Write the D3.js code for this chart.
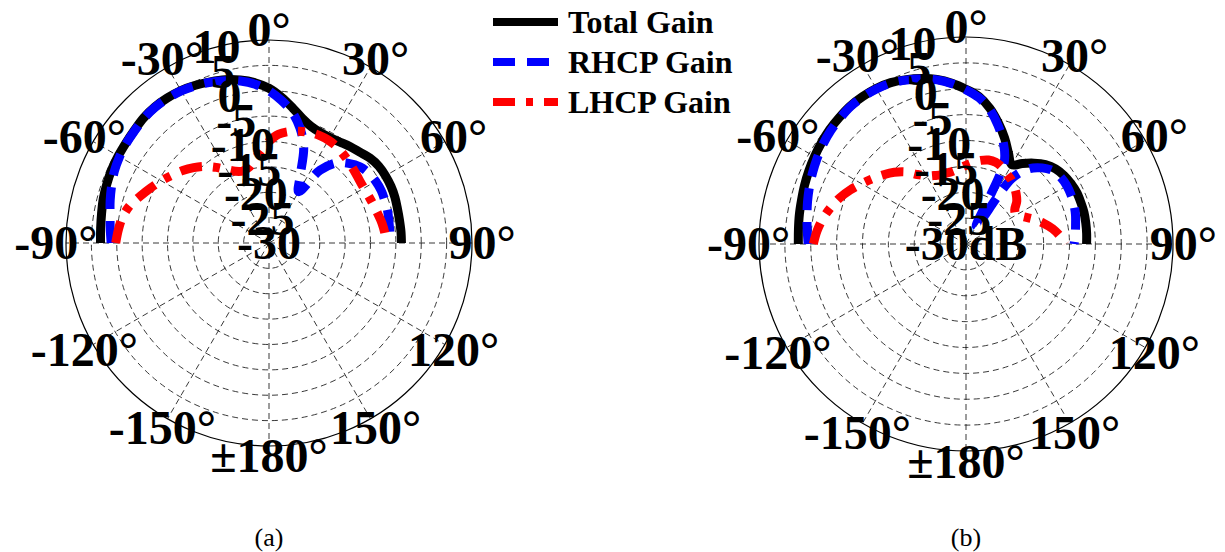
<!DOCTYPE html>
<html>
<head>
<meta charset="utf-8">
<script src="https://cdnjs.cloudflare.com/ajax/libs/d3/7.8.5/d3.min.js"></script>
<style>
  body { margin: 0; background: #fff; }
</style>
</head>
<body>
<svg id="svgContainer"></svg>
<script>
// Angles (deg, 0 at top, clockwise) and gains in dB
const angles = [-90, -85, -80, -75, -70, -65, -60, -55, -50, -45, -40, -35, -30, -25, -20, -15, -10, -5,
  0, 5, 10, 15, 20, 25, 30, 35, 40, 45, 50, 55, 60, 65, 70, 75, 80, 85, 90];

// plot (a)
const totalA = [3.2, 3.3, 3.5, 3.8, 4.0, 4.2, 4.3, 4.4, 4.6, 4.9, 5.0, 4.9, 4.7, 4.3, 3.8, 3.3, 2.6, 1.7,
  0.5, -1.2, -3.0, -4.6, -5.6, -6.0, -6.0, -5.7, -5.2, -4.7, -4.0, -3.6, -3.5, -3.5, -3.6, -3.8, -3.9, -3.9, -3.9];
const rhcpA = [1.1, 1.4, 1.8, 2.4, 3.0, 3.6, 4.0, 4.3, 4.5, 4.8, 4.9, 4.8, 4.6, 4.2, 3.7, 3.1, 2.4, 1.4,
  0.0, -1.8, -3.8, -6.5, -10.0, -15.5, -18.3, -12.5, -9.4, -7.8, -6.6, -6.0, -5.7, -5.6, -5.7, -5.8, -6.0, -6.1, -6.2];
const lhcpA = [0.2, -0.2, -0.7, -1.6, -3.0, -4.3, -5.5, -6.7, -7.8, -9.0, -10.3, -11.8, -13.3, -14.4, -14.9, -14.6, -13.4, -11.8,
  -10.0, -8.5, -7.7, -7.2, -6.8, -6.6, -6.6, -6.8, -7.2, -7.6, -8.0, -8.3, -8.4, -8.3, -8.1, -7.8, -7.4, -7.1, -6.9];

// plot (b)
const totalB = [2.4, 2.5, 2.7, 2.9, 3.2, 3.5, 3.8, 4.1, 4.4, 4.6, 4.8, 4.8, 4.7, 4.4, 3.8, 3.1, 2.3, 1.2,
  -0.1, -1.4, -3.4, -5.8, -8.2, -10.6, -12.3, -11.0, -9.6, -8.3, -7.4, -6.9, -6.6, -6.4, -6.4, -6.4, -6.5, -6.6, -6.7];
const rhcpB = [0.5, 0.8, 1.2, 1.7, 2.2, 2.7, 3.2, 3.7, 4.1, 4.4, 4.7, 4.7, 4.6, 4.3, 3.7, 3.0, 2.2, 1.1,
  -0.2, -1.6, -3.6, -6.2, -9.0, -12.5, -26.0, -14.5, -11.0, -9.2, -8.0, -7.6, -7.5, -7.6, -7.8, -8.1, -8.5, -8.8, -9.1];
const lhcpB = [-0.5, -1.1, -1.9, -2.9, -4.0, -5.3, -6.7, -8.0, -9.2, -10.4, -11.8, -13.6, -14.8, -15.4, -15.8, -15.8, -15.7, -15.3,
  -14.8, -14.2, -13.6, -13.2, -13.2, -13.6, -14.3, -14.8, -15.5, -16.3, -17.2, -18.5, -18.8, -17.6, -16.0, -14.5, -13.0, -11.8, -10.8];

// Tick labels
const angleTicks = [0, 30, 60, 90, 120, 150, 180, -150, -120, -90, -60, -30];
const angleLabels = ["0°", "30°", "60°", "90°", "120°", "150°", "±180°", "-150°", "-120°", "-90°", "-60°", "-30°"];
const rTicks = [-30, -25, -20, -15, -10, -5, 0, 5, 10];
const seriesNames = ["Total Gain", "RHCP Gain", "LHCP Gain"];
const captions = ["(a)", "(b)"];

const svgWidth = 1225;
const svgHeight = 552;
const svg = d3.select("#svgContainer")
  .attr("width", svgWidth)
  .attr("height", svgHeight);

svg.append("rect")
  .attr("width", svgWidth)
  .attr("height", svgHeight)
  .attr("fill", "#fff");

const serifFont = "'Liberation Serif', 'Times New Roman', serif";
const rad = d => d * Math.PI / 180;

// line styles for the three series
const styles = [
  { color: "#000000", dash: null },
  { color: "#0000ff", dash: "22,12" },
  { color: "#ff0000", dash: "22,11,7,11" }
];

function drawPolar(cx, cy, R, series, lastLabel, caption) {
  const r = d3.scaleLinear().domain([-30, 10]).range([0, R]);
  const g = svg.append("g").attr("transform", `translate(${cx},${cy})`);

  // dashed rings
  g.selectAll(".ring")
    .data(rTicks.slice(1, -1))
    .enter()
    .append("circle")
    .attr("r", d => r(d))
    .attr("fill", "none")
    .attr("stroke", "#222")
    .attr("stroke-width", 0.9)
    .attr("stroke-dasharray", "6,4");

  // dashed spokes every 30 deg
  g.selectAll(".spoke")
    .data(d3.range(0, 360, 30))
    .enter()
    .append("line")
    .attr("x1", 0)
    .attr("y1", 0)
    .attr("x2", d => R * Math.sin(rad(d)))
    .attr("y2", d => -R * Math.cos(rad(d)))
    .attr("stroke", "#222")
    .attr("stroke-width", 0.9)
    .attr("stroke-dasharray", "6,4");

  // outer circle
  g.append("circle")
    .attr("r", R)
    .attr("fill", "none")
    .attr("stroke", "#000")
    .attr("stroke-width", 1.2);

  const line = d3.lineRadial()
    .angle(d => rad(d[0]))
    .radius(d => r(d[1]))
    .curve(d3.curveCatmullRom.alpha(0.5));

  series.forEach((vals, i) => {
    g.append("path")
      .attr("d", line(angles.map((a, k) => [a, vals[k]])))
      .attr("fill", "none")
      .attr("stroke", styles[i].color)
      .attr("stroke-width", 9)
      .attr("stroke-dasharray", styles[i].dash);
  });

  // radial labels along -15 deg
  g.selectAll(".rlabel")
    .data(rTicks)
    .enter()
    .append("text")
    .attr("x", d => -r(d) * Math.sin(rad(15)))
    .attr("y", d => -r(d) * Math.cos(rad(15)))
    .attr("dy", "0.34em")
    .attr("text-anchor", "middle")
    .attr("font-family", serifFont)
    .attr("font-weight", "bold")
    .attr("font-size", 48)
    .text(d => d === -30 ? lastLabel : d);

  // angle labels
  g.selectAll(".alabel")
    .data(angleTicks)
    .enter()
    .append("text")
    .attr("x", d => 1.05 * R * Math.sin(rad(d)))
    .attr("y", d => -1.05 * R * Math.cos(rad(d)))
    .attr("dy", "0.34em")
    .attr("text-anchor", "middle")
    .attr("font-family", serifFont)
    .attr("font-weight", "bold")
    .attr("font-size", 48)
    .text((d, i) => angleLabels[i]);

  svg.append("text")
    .attr("x", cx)
    .attr("y", 546)
    .attr("text-anchor", "middle")
    .attr("font-family", serifFont)
    .attr("font-size", 26)
    .text(caption);
}

drawPolar(269, 243, 203, [totalA, rhcpA, lhcpA], "-30", captions[0]);
drawPolar(966, 244, 207, [totalB, rhcpB, lhcpB], "-30dB", captions[1]);

// Legend
const legend = svg.selectAll(".legend")
  .data(seriesNames)
  .enter()
  .append("g")
  .attr("class", "legend")
  .attr("transform", (d, i) => `translate(493, ${22 + i * 40})`);

legend.append("line")
  .attr("x1", 0)
  .attr("x2", 65)
  .attr("stroke", (d, i) => styles[i].color)
  .attr("stroke-width", 8)
  .attr("stroke-dasharray", (d, i) => styles[i].dash);

legend.append("text")
  .attr("x", 75)
  .attr("dy", "0.34em")
  .attr("font-family", serifFont)
  .attr("font-weight", "bold")
  .attr("font-size", 32)
  .text(d => d);
</script>
</body>
</html>
